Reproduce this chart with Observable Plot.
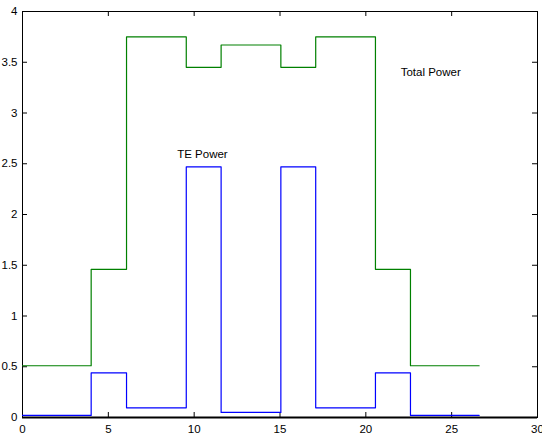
<!DOCTYPE html>
<html>
<head>
<meta charset="utf-8">
<script src="https://cdn.jsdelivr.net/npm/d3@7"></script>
<script src="https://cdn.jsdelivr.net/npm/@observablehq/plot@0.6"></script>
<style>
  html, body { margin: 0; padding: 0; background: #fff; }
  svg { overflow: visible; }
</style>
</head>
<body>
<div id="chart"></div>
<script>
// Step edges (x) and level values for each segment
const edges = [0, 4, 6.06, 9.54, 11.57, 15.05, 17.08, 20.56, 22.6, 26.6];
const totalPower = [0.51, 1.46, 3.75, 3.45, 3.67, 3.45, 3.75, 1.46, 0.51];
const tePower = [0.02, 0.44, 0.095, 2.47, 0.05, 2.47, 0.095, 0.44, 0.02];

const labelText = ["Total Power", "TE Power"];
const labelX = [22.03, 9.01];
const labelY = [3.40, 2.59];

const xTicks = [0, 5, 10, 15, 20, 25, 30];
const yTicks = [0, 0.5, 1, 1.5, 2, 2.5, 3, 3.5, 4];

function stepData(values) {
  const pts = values.map((v, i) => ({x: edges[i], y: v}));
  pts.push({x: edges[edges.length - 1], y: values[values.length - 1]});
  return pts;
}
const labels = labelText.map((t, i) => ({text: t, x: labelX[i], y: labelY[i]}));

const W = 542, H = 434, ML = 22, MR = 5, MT = 11, MB = 17, TICK = 5;
const innerW = W - ML - MR, innerH = H - MT - MB;
const fmt = d => String(d);

const chart = Plot.plot({
  width: W,
  height: H,
  marginLeft: ML,
  marginRight: MR,
  marginTop: MT,
  marginBottom: MB,
  style: {fontFamily: "'Liberation Sans', Arial, sans-serif", fontSize: "11.5px", color: "black", background: "white"},
  x: {domain: [0, 30]},
  y: {domain: [0, 4]},
  marks: [
    Plot.frame({stroke: "black", strokeWidth: 1}),
    // inward tick marks on all four sides
    Plot.tickX(xTicks, {x: d => d, insetTop: innerH - TICK, stroke: "black"}),
    Plot.tickX(xTicks, {x: d => d, insetBottom: innerH - TICK, stroke: "black"}),
    Plot.tickY(yTicks, {y: d => d, insetRight: innerW - TICK, stroke: "black"}),
    Plot.tickY(yTicks, {y: d => d, insetLeft: innerW - TICK, stroke: "black"}),
    Plot.axisX({anchor: "bottom", ticks: xTicks, tickSize: 0, tickPadding: 7, tickFormat: fmt, label: null, fill: "black"}),
    Plot.axisY({anchor: "left", ticks: yTicks, tickSize: 0, tickPadding: 5, tickFormat: fmt, label: null, fill: "black"}),
    Plot.line(stepData(totalPower), {x: "x", y: "y", curve: "step-after", stroke: "#008000", strokeWidth: 1.2}),
    Plot.line(stepData(tePower), {x: "x", y: "y", curve: "step-after", stroke: "#0000ff", strokeWidth: 1.2}),
    Plot.text(labels, {x: "x", y: "y", text: "text", textAnchor: "start", fill: "black", fontSize: 11.5}),
    Plot.ruleY([0], {stroke: "black", strokeWidth: 2})
  ]
});
document.getElementById("chart").appendChild(chart);
</script>
</body>
</html>
